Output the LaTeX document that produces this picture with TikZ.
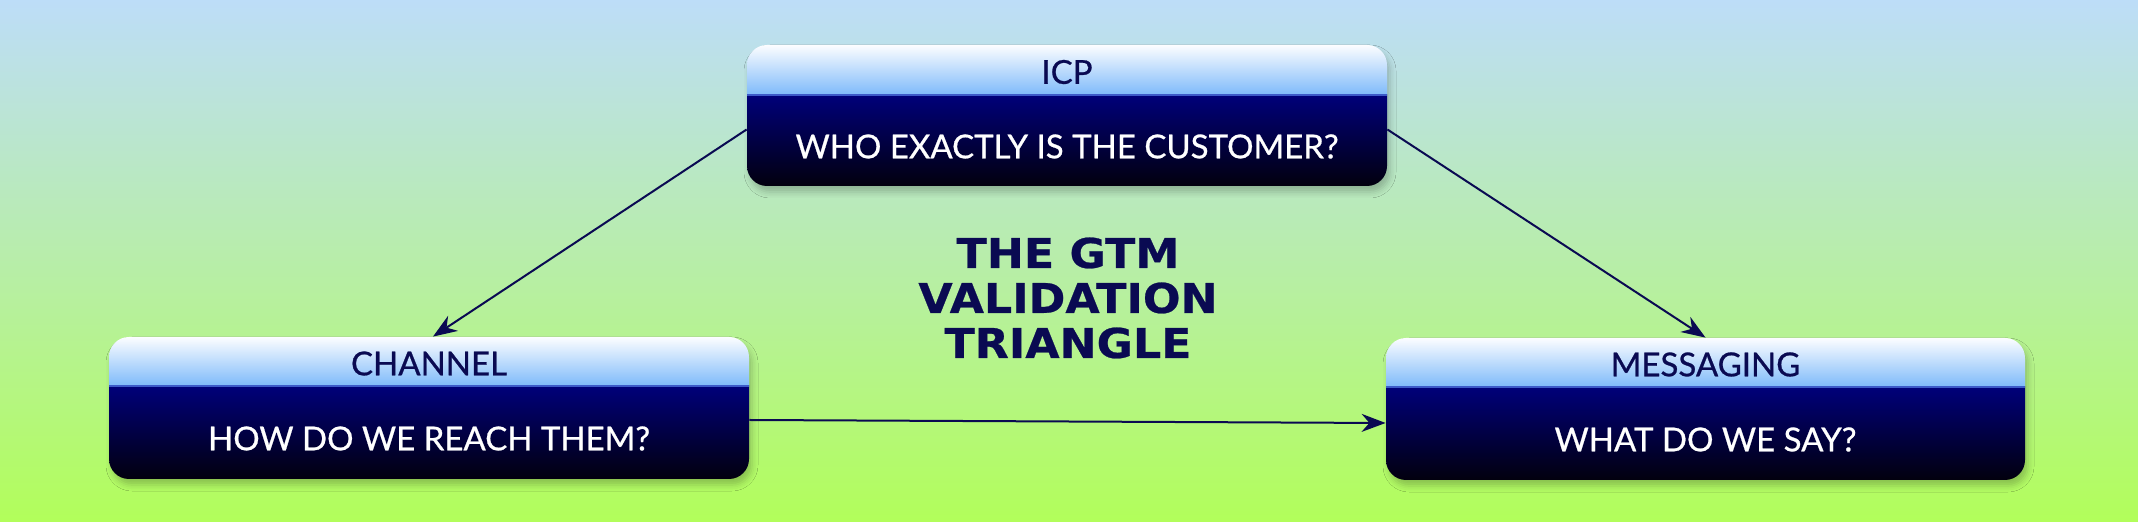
\documentclass[tikz,border=0pt]{standalone}
\usepackage{fontspec}
\setmainfont{Lato}
\newfontfamily\medfont[FakeBold=0.7]{Lato}
\newfontfamily\titlefont[FakeStretch=1.08,FakeBold=0.6]{DejaVu Sans}
\usetikzlibrary{arrows.meta,shadows.blur,fit}
\definecolor{bgtop}{RGB}{189,221,248}
\definecolor{bgmid}{RGB}{184,234,176}
\definecolor{bgbot}{RGB}{178,254,90}
\definecolor{hdrtop}{RGB}{252,253,255}
\definecolor{hdrbot}{RGB}{126,186,250}
\definecolor{bodytop}{RGB}{0,0,122}
\definecolor{bodybot}{RGB}{2,0,14}
\definecolor{sepcol}{RGB}{60,90,200}
\definecolor{ink}{RGB}{10,10,82}
\tikzset{
  hdrtext/.style={text=ink, font=\medfont\fontsize{16.5}{18}\selectfont, inner sep=0pt},
  bodytext/.style={text=white, font=\medfont\fontsize{16.5}{18}\selectfont, inner sep=0pt},
  boxframe/.style={inner sep=0pt, draw=none},
  conn/.style={draw=ink, line width=1pt, -{Stealth[length=12pt,width=9pt]}},
  titletext/.style={text=ink, align=center, font=\titlefont\bfseries\fontsize{20.5}{22.5}\selectfont}
}
\newcommand\gtmbox[8]{%
  \path[rounded corners=10pt, blur shadow={shadow xshift=1.5pt, shadow yshift=-3pt, shadow blur radius=3pt, shadow opacity=22}] (#2,#3) rectangle (#4,#5);
  \begin{scope}
    \clip[rounded corners=10pt] (#2,#3) rectangle (#4,#5);
    \shade[top color=hdrtop, bottom color=hdrbot] (#2,#3) rectangle (#4,#6);
    \shade[top color=bodytop, bottom color=bodybot] (#2,#6) rectangle (#4,#5);
    \draw[sepcol, line width=0.8pt] (#2,#6) -- (#4,#6);
  \end{scope}
  \node[boxframe, fit={(#2,#3) (#4,#5)}] (#1) {};
  \node[hdrtext] (#1-h) at ({(#2+#4)/2},{(#3+#6)/2+2}) {#7};
  \node[bodytext] (#1-b) at ({(#2+#4)/2},{(#6+#5)/2+6}) {#8};
}
\begin{document}
\begin{tikzpicture}[x=0.5pt,y=-0.5pt]
  \shade[top color=bgtop, middle color=bgmid, bottom color=bgbot] (0,0) rectangle (2138,522);
  \useasboundingbox (0,0) rectangle (2138,522);
  \gtmbox{icp}{747}{45}{1387}{186}{95}{ICP}{WHO EXACTLY IS THE CUSTOMER?}
  \gtmbox{channel}{109}{337}{749}{479}{386}{CHANNEL}{HOW DO WE REACH THEM?}
  \gtmbox{messaging}{1386}{338}{2025}{480}{387}{MESSAGING}{WHAT DO WE SAY?}
  \node[titletext] (title) at (1068,298) {THE GTM\\VALIDATION\\TRIANGLE};
  \draw[conn] ([yshift=-7pt]icp.west) -- ([xshift=2pt]channel.north);
  \draw[conn] ([yshift=-7pt]icp.east) -- (messaging.north);
  \draw[conn] ([yshift=-6pt]channel.east) -- ([yshift=-7pt]messaging.west);
\end{tikzpicture}
\end{document}
